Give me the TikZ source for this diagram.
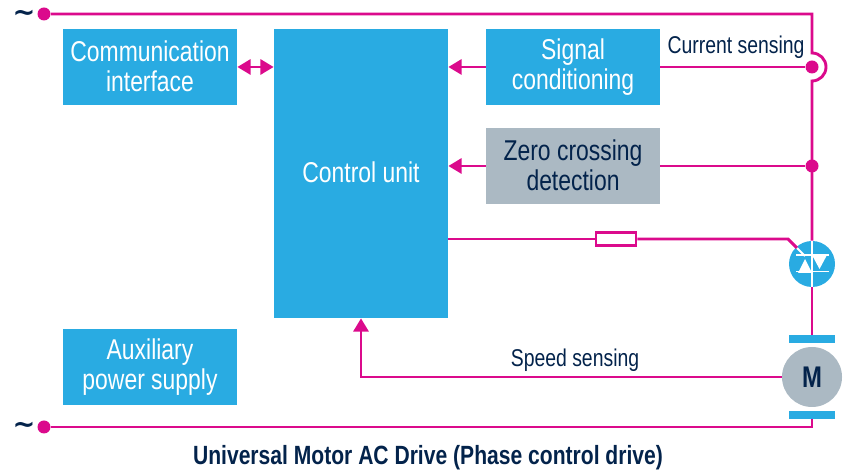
\documentclass[tikz,border=0pt]{standalone}
\usepackage{fontspec}
\setmainfont[FakeStretch=0.8]{Liberation Sans}
\newfontfamily\tildefont{DejaVu Sans Bold}
\usetikzlibrary{positioning,arrows.meta}
\definecolor{stblue}{HTML}{29ABE2}
\definecolor{stpink}{HTML}{DB0A8C}
\definecolor{stgrey}{HTML}{ABB9C3}
\definecolor{stnavy}{HTML}{03234B}
\tikzset{
  block/.style={rectangle, fill=stblue, text=white, align=center, minimum width=3.48cm, minimum height=1.52cm, font=\fontsize{16.3}{16.8}\selectfont, inner sep=0pt},
  wire/.style={draw=stpink, line width=1.65pt},
  sig/.style={wire, -{Triangle[length=7.5pt,width=8.5pt]}},
  junction/.style={circle, fill=stpink, minimum size=0.26cm, inner sep=0pt},
  caption/.style={text=stnavy, font=\fontsize{13.8}{15}\selectfont, inner sep=0pt},
  tilde/.style={text=stnavy, font=\fontsize{15.5}{15}\tildefont, inner sep=0pt}
}
\begin{document}
\begin{tikzpicture}
            \useasboundingbox (0,0) rectangle (16.9,9.42);
            % Blocks
            \node[block] (comm) at (3,8.08) {\raisebox{1pt}{Communication}\\\raisebox{1pt}{interface}};
            \node[block, minimum height=5.78cm] (control) at (7.22,5.95) {\raisebox{1pt}{Control unit}};
            \node[block] (signal) at (11.46,8.08) {\raisebox{2pt}{Signal}\\\raisebox{2pt}{conditioning}};
            \node[block, fill=stgrey, text=stnavy] (zero) at (11.46,6.1) {\raisebox{1pt}{Zero crossing}\\\raisebox{1pt}{detection}};
            \node[block] (aux) at (3,2.08) {Auxiliary\\power supply};
            % Mains
            \node[junction] (topdot) at (0.88,9.14) {};
            \node[junction] (botdot) at (0.88,0.88) {};
            \node[tilde] (toptilde) at (0.48,9.1) {\char"7E};
            \node[tilde] (bottilde) at (0.48,0.86) {\char"7E};
            \node[junction] (curdot) at (16.24,8.08) {};
            \node[junction] (zerodot) at (16.24,6.1) {};
            % Motor
            \node[circle, fill=stgrey, text=stnavy, minimum size=1.2cm, inner sep=0pt, font=\fontsize{17}{17}\selectfont\bfseries] (motor) at (16.24,1.88) {M};
            \node[rectangle, fill=stblue, minimum width=0.92cm, minimum height=0.16cm, inner sep=0pt] (brushtop) at (16.24,2.64) {};
            \node[rectangle, fill=stblue, minimum width=0.92cm, minimum height=0.16cm, inner sep=0pt] (brushbot) at (16.24,1.12) {};
            % Triac
            \node[circle, fill=stblue, minimum size=0.92cm, inner sep=0pt] (triac) at (16.24,4.14) {};
            \node[rectangle, draw=stpink, fill=white, line width=1.65pt, minimum width=0.8cm, minimum height=0.26cm, inner sep=0pt] (res) at (12.32,4.64) {};
            \coordinate (corner) at (16.24,9.14);
            \coordinate (bend) at (15.76,4.64);
            \coordinate (gate) at (15.94,4.46);
            \coordinate (gatein) at (16.1,4.3);
            \coordinate (speed) at (7.22,1.88);
            \coordinate (botcorner) at (16.24,0.88);

            \draw[wire] (topdot) -- (corner) -- (16.24,8.36) arc (90:-90:0.28) -- (triac);
            \draw[wire] (triac) -- (brushtop);
            \draw[wire] (botdot) -- (botcorner) -- (brushbot);
            \draw[wire] (control.east |- res) -- (res);
            \draw[wire] (res) -- (bend) -- (gate);

            \draw[sig] (signal.west) -- (control.east |- signal.west);
            \draw[sig] (zero.west) -- (control.east |- zero.west);
            \draw[wire] (signal.east) -- (curdot);
            \draw[wire] (zero.east) -- (zerodot);
            \draw[wire, {Triangle[length=7.5pt,width=8.5pt]}-{Triangle[length=7.5pt,width=8.5pt]}] (comm.east) -- (control.west |- comm.east);
            \draw[sig] (motor.west) -- (speed) -- (control.south);

            % Triac symbol
            \draw[white, line width=1.1pt] (16.24,4.6) -- (16.24,3.68);
            \draw[white, line width=1.1pt] (gate) -- (gatein);
            \draw[white, line width=1.1pt] (15.92,4.32) -- (16.58,4.32);
            \draw[white, line width=1.1pt] (15.92,3.99) -- (16.58,3.99);
            \fill[white] (15.96,3.96) -- (16.1,4.24) -- (16.24,3.96) -- cycle;
            \fill[white] (16.24,4.32) -- (16.39,4.04) -- (16.54,4.32) -- cycle;

            % Labels
            \node[caption] (current) at (14.72,8.48) {Current sensing};
            \node[caption] (speedlabel) at (11.5,2.22) {Speed sensing};
            \node[caption, font=\fontsize{15}{16}\selectfont\bfseries] (title) at (8.56,0.26) {Universal Motor AC Drive (Phase control drive)};
\end{tikzpicture}
\end{document}
